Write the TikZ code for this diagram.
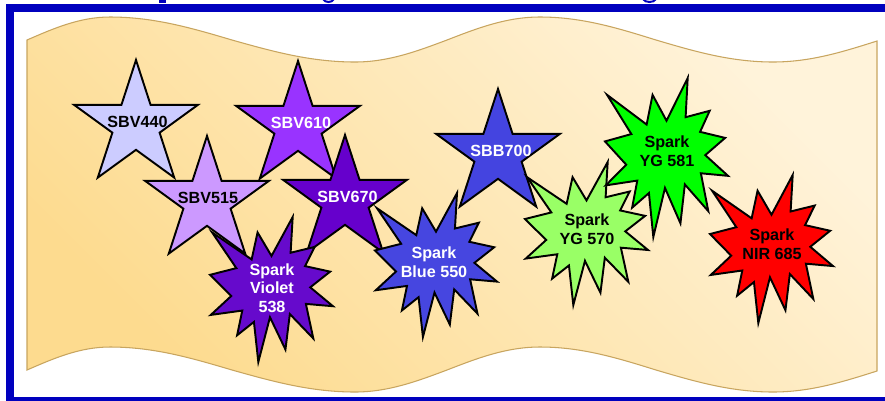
\documentclass[tikz,border=0pt]{standalone}
\usepackage{fontspec}
\setmainfont{Liberation Sans}
\usepackage{tikz}
\usetikzlibrary{shapes.geometric}

\definecolor{frameblue}{RGB}{0,0,190}
\definecolor{bannerdark}{RGB}{253,219,143}
\definecolor{bannerlight}{RGB}{255,243,218}
\definecolor{bannerline}{RGB}{200,165,95}
\definecolor{sbvA}{RGB}{204,204,255}
\definecolor{sbvB}{RGB}{204,153,255}
\definecolor{sbvC}{RGB}{153,51,255}
\definecolor{sbvD}{RGB}{102,0,204}
\definecolor{sbbA}{RGB}{68,68,224}
\definecolor{sparkVio}{RGB}{102,10,204}
\definecolor{sparkBlue}{RGB}{70,70,224}
\definecolor{sparkYGa}{RGB}{153,255,102}
\definecolor{sparkYGb}{RGB}{0,255,0}
\definecolor{sparkNIR}{RGB}{255,0,0}

\tikzset{
  starbox/.style={star, star points=5, star point ratio=2.618,
    minimum size=2.6cm, inner sep=0pt, draw=black, line width=1.1pt},
  labeltext/.style={font=\bfseries\fontsize{9.2}{10.6}\selectfont,
    align=center, inner sep=0pt},
  pics/spark/.style={code={
    \draw[black, line width=1.1pt, fill=#1]
      (50,26.85) -- (67.23,0) -- (65.53,24.65) -- (85.09,20.63)
      -- (77.32,33.87) -- (97.67,37.67) -- (81.51,48.50) -- (100,61.53)
      -- (77.95,59.92) -- (84.00,83.77) -- (64.91,66.93) -- (61.33,91.38)
      -- (48.76,69.14) -- (39.28,100) -- (35.72,72.35) -- (22.05,81.56)
      -- (26.24,64.52) -- (0.63,67.53) -- (17.23,54.51) -- (0,39.88)
      -- (21.42,35.26) -- (1.71,10.63) -- (33.85,29.26) -- (38.67,10.63)
      -- cycle;}}
}

\begin{document}
\begin{tikzpicture}[x=0.02cm, y=-0.02cm]
  \clip (0,0) rectangle (885,400);
  \useasboundingbox (0,0) rectangle (885,400);

  % Frame
  \fill[white] (0,0) rectangle (885,400);
  \draw[frameblue, line width=0.16cm] (10,8) rectangle (905,401);
  \fill[frameblue] (159,-1) rectangle (166,3);
  \draw[frameblue, line width=0.04cm] (323,-1) .. controls (325,3) and (332,3) .. (334,-1);
  \draw[frameblue, line width=0.04cm] (643,-1) .. controls (645,3) and (654,3) .. (656,-1);

  % Banner
  \draw[bannerline, line width=0.6pt, top color=bannerlight,
        bottom color=bannerdark, shading angle=-45]
    (27,40) sin (110,17) cos (232,40) sin (355,62) cos (447,40)
    sin (540,17) cos (656,40) sin (773,62) cos (877,41)
    -- (877,371) sin (773,392) cos (656,370) sin (540,347) cos (447,370)
    sin (355,392) cos (232,370) sin (110,347) cos (27,370) -- cycle;

  % Stars
  \node[starbox, fill=sbvA] (sbv440) at (136,125) {};
  \node[labeltext] (sbv440txt) at ([xshift=0.03cm, yshift=0.07cm]sbv440.center) {SBV440};
  \node[starbox, fill=sbvC] (sbv610) at (298,126) {};
  \node[labeltext, white] (sbv610txt) at ([xshift=0.06cm, yshift=0.07cm]sbv610.center) {SBV610};
  \node[starbox, fill=sbvB] (sbv515) at (207,201) {};
  \node[labeltext] (sbv515txt) at ([xshift=0.02cm, yshift=0.07cm]sbv515.center) {SBV515};
  \node[starbox, fill=sbvD] (sbv670) at (345,200) {};
  \node[labeltext, white] (sbv670txt) at ([xshift=0.05cm, yshift=0.07cm]sbv670.center) {SBV670};
  \node[starbox, fill=sbbA] (sbb700) at (498,154) {};
  \node[labeltext, white] (sbb700txt) at ([xshift=0.06cm, yshift=0.07cm]sbb700.center) {SBB700};

  % Sparks
  \pic[xscale=1.23, yscale=1.45] at (210,217) {spark=sparkVio};
  \node[labeltext, white] (violet538) at (272,288) {Spark\\Violet\\538};
  \pic[xscale=1.22, yscale=1.44] at (375,193) {spark=sparkBlue};
  \node[labeltext, white] (blue550) at (434,262) {Spark\\Blue 550};
  \pic[xscale=1.23, yscale=1.43] at (525,162) {spark=sparkYGa};
  \node[labeltext] (yg570) at (587,229) {Spark\\YG 570};
  \pic[xscale=1.23, yscale=1.59] at (605,78) {spark=sparkYGb};
  \node[labeltext] (yg581) at (667,151) {Spark\\YG 581};
  \pic[xscale=1.23, yscale=1.48] at (710,175) {spark=sparkNIR};
  \node[labeltext] (nir685) at (772,244) {Spark\\NIR 685};
\end{tikzpicture}
\end{document}
